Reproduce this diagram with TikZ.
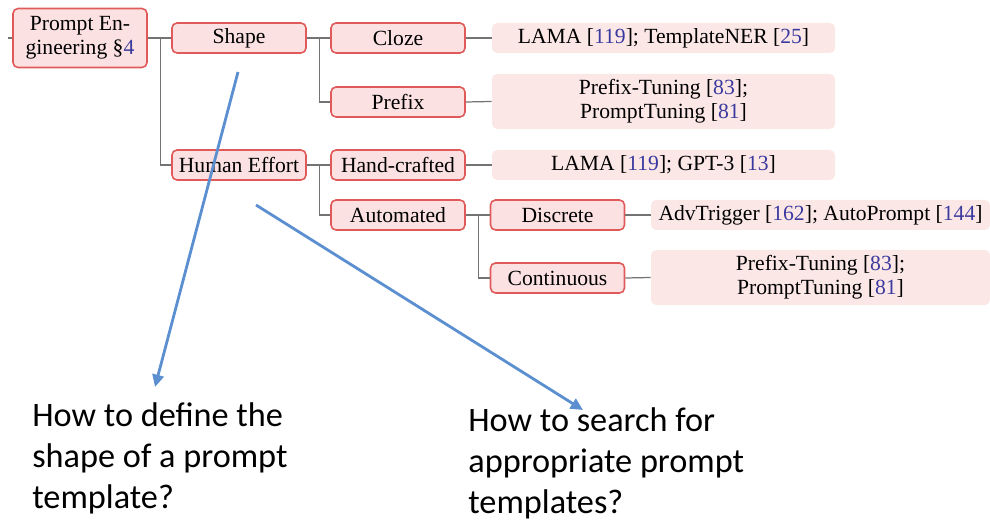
\documentclass[tikz,border=0pt]{standalone}
\usepackage{fontspec}
\setmainfont{Liberation Serif}
\newfontfamily\notefont{Carlito}
\usetikzlibrary{arrows.meta}
\definecolor{boxred}{HTML}{E05A5A}
\definecolor{boxfill}{HTML}{FBE1E1}
\definecolor{leaffill}{HTML}{FCE7E7}
\definecolor{citeblue}{HTML}{3A3A9E}
\definecolor{notearrow}{HTML}{5B8FCF}
\newcommand{\refnum}[1]{[\textcolor{citeblue}{#1}]}
\tikzset{
  treefont/.style={font=\fontsize{12.3}{13.8}\selectfont, text=black},
  catbox/.style={treefont, draw=boxred, fill=boxfill, line width=0.9pt,
    rounded corners=0.1cm, minimum width=2.68cm, minimum height=0.6cm,
    inner sep=1pt, align=center},
  leafbox/.style={treefont, fill=leaffill, rounded corners=0.1cm,
    minimum width=6.86cm, minimum height=0.6cm, inner sep=1pt, align=center},
  branch/.style={draw=black!55, line width=0.7pt},
  note/.style={font=\notefont\fontsize{19.5}{23.3}\selectfont, align=left,
    anchor=north west, inner sep=0pt},
  notearrow/.style={draw=notearrow, line width=1.6pt,
    -{Triangle[length=7pt,width=6.5pt]}}
}
\begin{document}
\begin{tikzpicture}
  \useasboundingbox (0,0) rectangle (19.8,-10.46);

  % taxonomy nodes
  \node[catbox, minimum height=1.18cm] (root) at (1.6,-0.76) {Prompt En-\\gineering §\textcolor{citeblue}{4}};
  \node[catbox] (shape) at (4.78,-0.76) {Shape};
  \node[catbox] (cloze) at (7.96,-0.76) {Cloze};
  \node[catbox] (prefix) at (7.96,-2.04) {Prefix};
  \node[leafbox] (lcloze) at (13.27,-0.76) {LAMA \refnum{119}; TemplateNER \refnum{25}};
  \node[leafbox, minimum height=1.1cm] (lprefix) at (13.27,-2.03) {Prefix-Tuning \refnum{83};\\PromptTuning \refnum{81}};
  \node[catbox] (human) at (4.78,-3.3) {Human Effort};
  \node[catbox] (hand) at (7.96,-3.3) {Hand-crafted};
  \node[leafbox] (lhand) at (13.27,-3.3) {LAMA \refnum{119}; GPT-3 \refnum{13}};
  \node[catbox] (auto) at (7.96,-4.3) {Automated};
  \node[catbox] (disc) at (11.15,-4.3) {Discrete};
  \node[leafbox, minimum width=6.78cm] (ldisc) at (16.41,-4.3) {AdvTrigger \refnum{162}; AutoPrompt \refnum{144}};
  \node[catbox] (cont) at (11.15,-5.56) {Continuous};
  \node[leafbox, minimum width=6.78cm, minimum height=1.1cm] (lcont) at (16.41,-5.55) {Prefix-Tuning \refnum{83};\\PromptTuning \refnum{81}};

  % tree branches
  \coordinate (lead) at (0.16,-0.76);
  \draw[branch] (lead) -- (root.west);
  \draw[branch] (root.east) -- (shape.west);
  \draw[branch] ([xshift=0.26cm]root.east) |- (human.west);
  \draw[branch] (shape.east) -- (cloze.west);
  \draw[branch] ([xshift=0.26cm]shape.east) |- (prefix.west);
  \draw[branch] (cloze.east) -- (lcloze.west);
  \draw[branch] (prefix.east) -- (lprefix.west);
  \draw[branch] (human.east) -- (hand.west);
  \draw[branch] ([xshift=0.26cm]human.east) |- (auto.west);
  \draw[branch] (hand.east) -- (lhand.west);
  \draw[branch] (auto.east) -- (disc.west);
  \draw[branch] ([xshift=0.26cm]auto.east) |- (cont.west);
  \draw[branch] (disc.east) -- (ldisc.west);
  \draw[branch] (cont.east) -- (lcont.west);

  % annotations
  \node[note] (qshape) at (0.64,-8.04) {How to define the\\shape of a prompt\\template?};
  \node[note] (qsearch) at (9.36,-8.14) {How to search for\\appropriate prompt\\templates?};
  \coordinate (sfrom) at (4.76,-1.44);
  \coordinate (sto) at (3.1,-7.74);
  \coordinate (afrom) at (5.12,-4.1);
  \coordinate (ato) at (11.66,-8.2);
  \draw[notearrow] (sfrom) -- (sto);
  \draw[notearrow] (afrom) -- (ato);
\end{tikzpicture}
\end{document}
